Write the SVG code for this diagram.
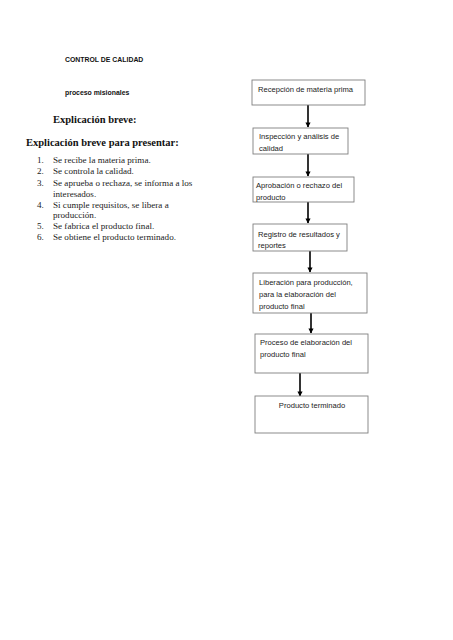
<svg xmlns="http://www.w3.org/2000/svg" width="453" height="640" viewBox="0 0 453 640">
<defs>
<style>
.bg{fill:#ffffff}
.box{fill:#ffffff;stroke:#7f7f7f;stroke-width:0.9}
.bt{font-family:"Liberation Sans",Arial,sans-serif;font-size:7.6px;fill:#222}
.hd{font-family:"Liberation Sans",Arial,sans-serif;font-size:6.9px;font-weight:bold;fill:#111}
.tt{font-family:"Liberation Serif","Times New Roman",serif;font-size:10.5px;font-weight:bold;fill:#111}
.li{font-family:"Liberation Serif","Times New Roman",serif;font-size:9.1px;fill:#222}
.ar{stroke:#000;stroke-width:1.6;fill:none;marker-end:url(#ah)}
</style>
<marker id="ah" viewBox="0 0 10 10" refX="9" refY="5" markerWidth="3.2" markerHeight="3.2" orient="auto" markerUnits="strokeWidth">
<path d="M0,0 L10,5 L0,10 z" fill="#000"/>
</marker>
</defs>
<rect class="bg" x="0" y="0" width="453" height="640"/>
<g id="left-text">
<text class="hd" x="65" y="62">CONTROL DE CALIDAD</text>
<text class="hd" x="65" y="95">proceso misionales</text>
<text class="tt" x="53" y="123">Explicación breve:</text>
<text class="tt" x="26" y="146">Explicación breve para presentar:</text>
<text class="li" x="37" y="163">1.</text><text class="li" x="53" y="163">Se recibe la materia prima.</text>
<text class="li" x="37" y="174">2.</text><text class="li" x="53" y="174">Se controla la calidad.</text>
<text class="li" x="37" y="186">3.</text><text class="li" x="53" y="186">Se aprueba o rechaza, se informa a los</text>
<text class="li" x="53" y="197">interesados.</text>
<text class="li" x="37" y="208">4.</text><text class="li" x="53" y="208">Si cumple requisitos, se libera a</text>
<text class="li" x="53" y="218">producción.</text>
<text class="li" x="37" y="229">5.</text><text class="li" x="53" y="229">Se fabrica el producto final.</text>
<text class="li" x="37" y="240">6.</text><text class="li" x="53" y="240">Se obtiene el producto terminado.</text>
</g>
<g id="connectors">
<line class="ar" x1="308" y1="105" x2="308" y2="127"/>
<line class="ar" x1="308" y1="154" x2="308" y2="176"/>
<line class="ar" x1="308" y1="202" x2="308" y2="223"/>
<line class="ar" x1="310" y1="251" x2="310" y2="272"/>
<line class="ar" x1="311" y1="313" x2="311" y2="333"/>
<line class="ar" x1="300" y1="373" x2="300" y2="396"/>
</g>
<g id="n1"><rect class="box" x="252" y="80" width="113" height="25"/><text class="bt" x="258" y="92">Recepción de materia prima</text></g>
<g id="n2"><rect class="box" x="253" y="128" width="95" height="26"/><text class="bt" x="259" y="139">Inspección y análisis de</text><text class="bt" x="259" y="151">calidad</text></g>
<g id="n3"><rect class="box" x="253" y="177" width="101" height="25"/><text class="bt" x="256" y="188">Aprobación o rechazo del</text><text class="bt" x="256" y="200">producto</text></g>
<g id="n4"><rect class="box" x="253" y="224" width="94" height="27"/><text class="bt" x="258" y="237">Registro de resultados y</text><text class="bt" x="258" y="248">reportes</text></g>
<g id="n5"><rect class="box" x="253" y="273" width="114" height="40"/><text class="bt" x="259" y="285">Liberación para producción,</text><text class="bt" x="259" y="297">para la elaboración del</text><text class="bt" x="259" y="309">producto final</text></g>
<g id="n6"><rect class="box" x="255" y="334" width="113" height="39"/><text class="bt" x="260" y="345">Proceso de elaboración del</text><text class="bt" x="260" y="357">producto final</text></g>
<g id="n7"><rect class="box" x="255" y="396" width="113" height="37"/><text class="bt" x="312" y="408" text-anchor="middle">Producto terminado</text></g>
</svg>
